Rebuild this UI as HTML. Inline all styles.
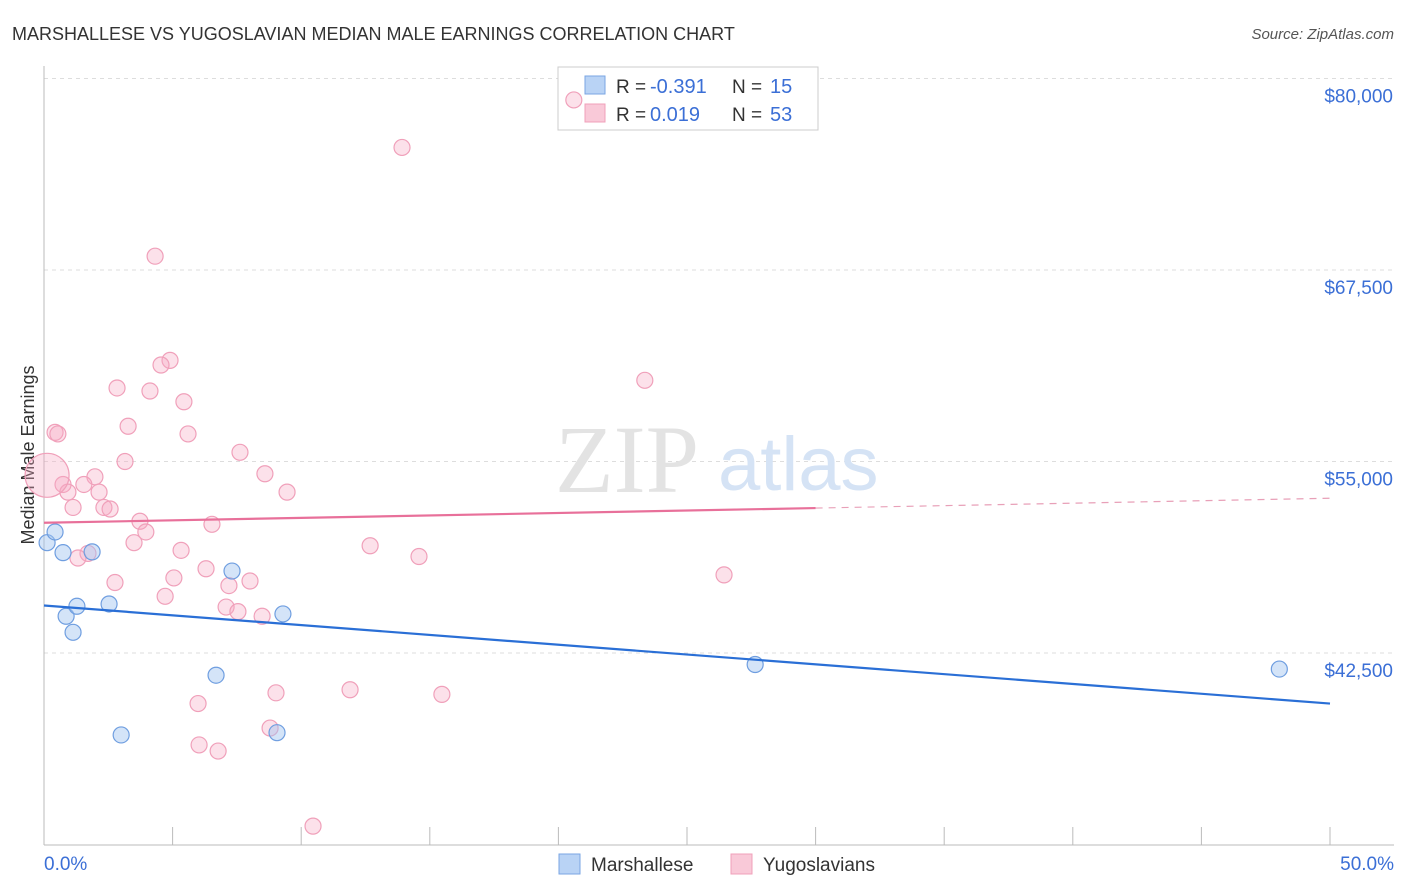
<!DOCTYPE html>
<html><head><meta charset="utf-8"><style>
body{margin:0;background:#fff;font-family:"Liberation Sans",sans-serif;}
#c{position:absolute;left:0;top:0;}
</style></head><body>
<svg id="c" width="1406" height="892"></svg>
<script>
const blueX=[0.12,0.43,0.74,1.87,0.86,1.28,1.13,2.53,3.0,6.69,7.31,9.06,9.29,27.65,48.03];
const blueY=[49700,50400,49050,49100,44900,45550,43850,45700,37150,41050,47850,37300,45050,41750,41450];
const pinkX=[20.6,13.92,4.32,4.9,4.55,2.84,4.12,5.44,23.36,3.27,0.43,0.54,5.6,7.62,3.15,8.59,1.98,0.74,1.55,0.93,2.14,9.45,1.13,2.33,2.57,3.73,6.53,3.96,3.5,12.68,5.33,1.71,1.32,14.58,6.3,2.76,5.05,8.01,26.44,7.19,4.71,7.08,7.54,8.48,9.02,11.9,15.47,5.99,8.79,6.03,6.77,10.46,0.12];
const pinkY=[78600,75500,68400,61600,61300,59800,59600,58900,60300,57300,56900,56800,56800,55600,55000,54200,54000,53500,53500,53000,53000,53000,52000,52000,51900,51100,50900,50400,49700,49500,49200,49000,48700,48800,48000,47100,47400,47200,47600,46900,46200,45500,45200,44900,39900,40100,39800,39200,37600,36500,36100,31200,54100];
const yTicks=[42500,55000,67500,80000];
const yTickLabels=["$42,500","$55,000","$67,500","$80,000"];
const xTickLabels=["0.0%","50.0%"];
const blueTrend=[45600,39200];
const pinkTrend=[51000,52600];

const svg=document.getElementById('c');
const NS='http://www.w3.org/2000/svg';
const X=v=>44+v/50*1286;
const Y=v=>653-(v-42500)*0.01532;
function mk(t,a,p){const e=document.createElementNS(NS,t);for(const k in a)e.setAttribute(k,a[k]);(p||svg).appendChild(e);return e;}
function txt(x,y,s,a){const e=mk('text',Object.assign({x:x,y:y},a));e.textContent=s;return e;}

let t=txt(12,40,"MARSHALLESE VS YUGOSLAVIAN MEDIAN MALE EARNINGS CORRELATION CHART",{'font-size':18,fill:'#333'});

t=txt(1394,39,"Source: ZipAtlas.com",{'font-size':15,fill:'#555','text-anchor':'end','font-style':'italic'});


yTicks.forEach((v,i)=>{
 const l=mk('line',{x1:44,x2:1394,y1:Y(v),y2:Y(v),stroke:'#ddd','stroke-dasharray':'4,4'});
 
 const tl=txt(1393,Y(v)+24,yTickLabels[i],{'font-size':19,fill:'#3b6fd6','text-anchor':'end'});
 
});
let ax=mk('line',{x1:44,x2:44,y1:66,y2:845,stroke:'#bbb'});

ax=mk('line',{x1:44,x2:1394,y1:845,y2:845,stroke:'#bbb'});

for(let i=0;i<=10;i++){const l=mk('line',{x1:X(i*5),x2:X(i*5),y1:827,y2:845,stroke:'#bbb'});
 }
t=txt(44,870,xTickLabels[0],{'font-size':19,fill:'#3b6fd6'});
t=txt(1394,870,xTickLabels[1],{'font-size':19,fill:'#3b6fd6','text-anchor':'end'});
t=txt(0,0,"Median Male Earnings",{'font-size':18,fill:'#333','text-anchor':'middle',transform:'translate(34,455) rotate(-90)'});

t=txt(555,492,"ZIP",{'font-size':96,fill:'#e3e3e3','font-family':'Liberation Serif'});
t=txt(718,490,"atlas",{'font-size':76,fill:'#d5e3f5'});

// stats legend (drawn before points so points show on top)
const g=mk('g',{});
mk('rect',{x:558,y:67,width:260,height:63,fill:'#fff',stroke:'#ccc'},g);
mk('rect',{x:585,y:76,width:20,height:18,fill:'#b9d3f5',stroke:'#7aa6e3'},g);
mk('rect',{x:585,y:104,width:20,height:18,fill:'#f9c9d8',stroke:'#f0a0ba'},g);
[["R = ","-0.391","15",93],["R = "," 0.019","53",121]].forEach(r=>{
 txt(616,r[3],r[0],{'font-size':19,fill:'#333'},g);
 txt(650,r[3],r[1],{'font-size':20,fill:'#3b6fd6','xml:space':'preserve'},g);
 txt(732,r[3],"N = ",{'font-size':19,fill:'#333'},g);
 txt(770,r[3],r[2],{'font-size':20,fill:'#3b6fd6'},g);
});

pinkX.forEach((v,i)=>{const r=i==pinkX.length-1?22:8;const c=mk('circle',{cx:X(v),cy:Y(pinkY[i]),r:r,fill:'rgba(246,170,195,0.35)',stroke:'#f0a0ba','stroke-width':1.2});
 });
blueX.forEach((v,i)=>{const c=mk('circle',{cx:X(v),cy:Y(blueY[i]),r:8,fill:'rgba(160,195,240,0.45)',stroke:'#6f9ee0','stroke-width':1.2});
 });

let tr=mk('line',{x1:X(0),x2:X(50),y1:Y(blueTrend[0]),y2:Y(blueTrend[1]),stroke:'#2a6fd6','stroke-width':2.2});

const pm=pinkTrend[0]+(pinkTrend[1]-pinkTrend[0])*0.6;
tr=mk('line',{x1:X(0),x2:X(30),y1:Y(pinkTrend[0]),y2:Y(pm),stroke:'#e8709a','stroke-width':2.2});

tr=mk('line',{x1:X(30),x2:X(50),y1:Y(pm),y2:Y(pinkTrend[1]),stroke:'#e8a0b8','stroke-width':1.2,'stroke-dasharray':'7,6'});


const lg=mk('g',{});
mk('rect',{x:559,y:854,width:21,height:20,fill:'#b9d3f5',stroke:'#7aa6e3'},lg);
txt(591,871,"Marshallese",{'font-size':19,fill:'#333'},lg);
mk('rect',{x:731,y:854,width:21,height:20,fill:'#f9c9d8',stroke:'#f0a0ba'},lg);
txt(763,871,"Yugoslavians",{'font-size':19,fill:'#333'},lg);
</script>
</body></html>
